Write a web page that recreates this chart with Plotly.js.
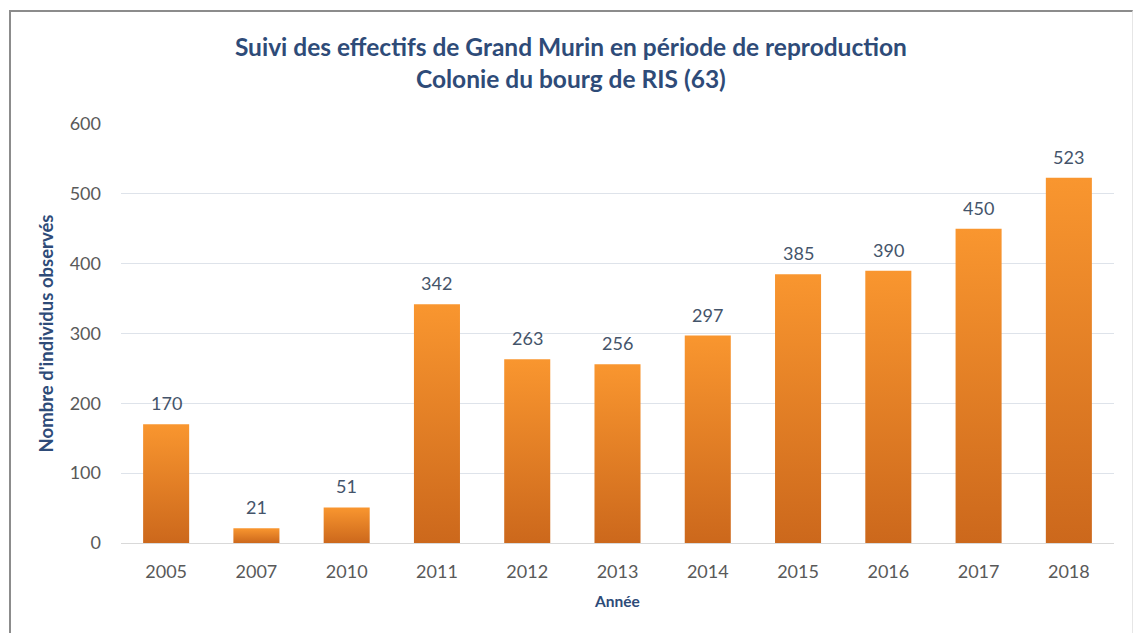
<!DOCTYPE html>
<html>
<head>
<meta charset="utf-8">
<script src="https://cdn.plot.ly/plotly-3.0.1.min.js"></script>
<style>
  html, body { margin: 0; padding: 0; background: #ffffff; }
  #frame { position: absolute; left: 9px; top: 10px; width: 1124px; height: 623px;
           border-left: 2px solid #8c8c8c; border-top: 2px solid #8c8c8c; border-right: 1px solid #e6e6e6; box-sizing: border-box; }
  #chart { position: absolute; left: 0; top: 0; width: 1135px; height: 633px; }
</style>
</head>
<body>
<div id="frame"></div>
<div id="chart"></div>
<script>
const years = ['2005','2007','2010','2011','2012','2013','2014','2015','2016','2017','2018'];
const counts = [170, 21, 51, 342, 263, 256, 297, 385, 390, 450, 523];
const yTicks = [0, 100, 200, 300, 400, 500, 600];

const chartTitle = 'Suivi des effectifs de Grand Murin en période de reproduction<br>Colonie du bourg de RIS (63)';
const xTitle = 'Année';
const yTitle = "Nombre d'individus observés";

const FONT = 'Lato, "Open Sans", sans-serif';

const trace = {
  type: 'bar',
  x: years,
  y: counts,
  marker: { color: '#E8832A', line: { width: 0 } },
  hoverinfo: 'x+y'
};

// on a category axis, annotation x is the category index
const annotations = years.map((yr, i) => ({
  x: i, y: counts[i], xref: 'x', yref: 'y',
  text: String(counts[i]), showarrow: false,
  yanchor: 'bottom', yshift: 8,
  font: { family: FONT, size: 18, color: '#44546A' }
}));

const layout = {
  width: 1135, height: 633,
  paper_bgcolor: 'rgba(0,0,0,0)',
  plot_bgcolor: 'rgba(0,0,0,0)',
  margin: { l: 121, r: 21, t: 124, b: 90 },
  bargap: 0.49,
  showlegend: false,
  font: { family: FONT, color: '#595959' },
  title: {
    text: chartTitle,
    font: { family: FONT, size: 24.5, color: '#2E4B78', weight: 'bold' },
    xref: 'container', x: 0.503, xanchor: 'center',
    yref: 'container', y: 0.912, yanchor: 'middle'
  },
  xaxis: {
    type: 'category',
    tickfont: { size: 18, color: '#595959' },
    ticks: '', ticklabelstandoff: 12,
    showgrid: false, showline: true, linecolor: '#D9D9D9', linewidth: 1,
    title: { text: xTitle, font: { size: 15.5, color: '#2E4B78', weight: 'bold' }, standoff: 15 }
  },
  yaxis: {
    range: [0, 600],
    tickvals: yTicks,
    tickfont: { size: 18, color: '#595959' },
    ticks: '', ticklabelstandoff: 19,
    showgrid: true, gridcolor: '#DEE3EA', gridwidth: 1,
    zeroline: false, showline: false,
    title: { text: yTitle, font: { size: 18.5, color: '#2E4B78', weight: 'bold' }, standoff: 11 }
  },
  annotations: annotations
};

function applyGradient(gd) {
  const svg = gd.querySelector('svg.main-svg');
  if (!svg) return;
  let defs = svg.querySelector('defs');
  if (!defs) { defs = document.createElementNS('http://www.w3.org/2000/svg', 'defs'); svg.insertBefore(defs, svg.firstChild); }
  if (!svg.querySelector('#barGrad')) {
    const g = document.createElementNS('http://www.w3.org/2000/svg', 'linearGradient');
    g.setAttribute('id', 'barGrad');
    g.setAttribute('x1', '0'); g.setAttribute('y1', '0'); g.setAttribute('x2', '0'); g.setAttribute('y2', '1');
    [['0%', '#F9962F'], ['100%', '#CC681C']].forEach(([o, c]) => {
      const s = document.createElementNS('http://www.w3.org/2000/svg', 'stop');
      s.setAttribute('offset', o); s.setAttribute('stop-color', c);
      g.appendChild(s);
    });
    defs.appendChild(g);
  }
  gd.querySelectorAll('.barlayer .point path').forEach(p => { p.style.fill = 'url(#barGrad)'; });
}

Plotly.newPlot('chart', [trace], layout, { displayModeBar: false, staticPlot: true }).then(gd => {
  applyGradient(gd);
  gd.on('plotly_afterplot', () => applyGradient(gd));
});
</script>
</body>
</html>
